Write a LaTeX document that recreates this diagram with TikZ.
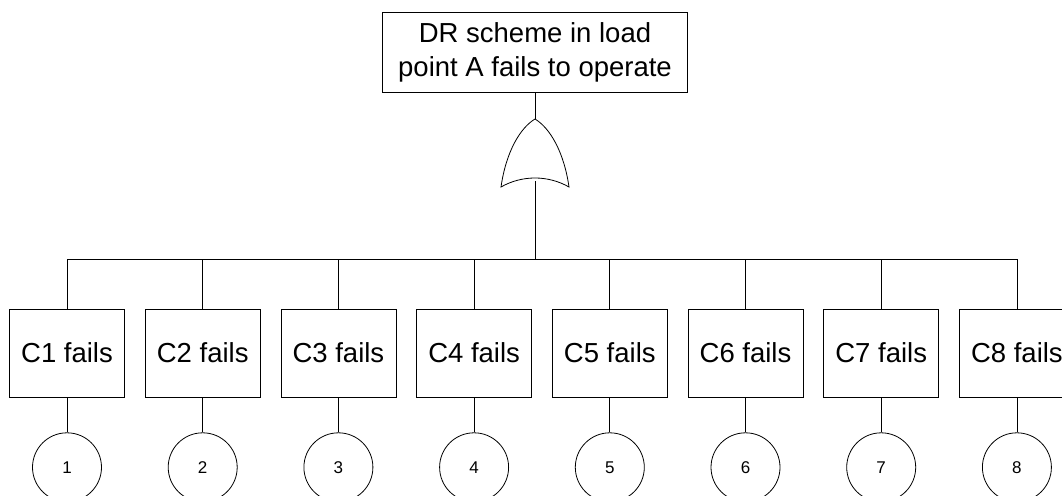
\documentclass[tikz,border=0pt]{standalone}
\usepackage{fontspec}
\setmainfont{Liberation Sans}
\usetikzlibrary{positioning}

\begin{document}
\begin{tikzpicture}[x=1pt, y=-1pt, line width=0.8pt,
    every node/.style={font=\fontsize{27.5}{34}\selectfont},
    evbox/.style={draw, rectangle, minimum width=115pt, minimum height=88pt, inner sep=2pt},
    basic/.style={draw, circle, minimum size=69pt, inner sep=0pt,
      font=\fontsize{17}{20}\selectfont},
    node distance=19.9pt]
  \useasboundingbox (0,0) rectangle (1062,495);

  % top event
  \node[draw, rectangle, minimum width=305pt, minimum height=80pt, align=center,
        inner sep=2pt] (top) at (535,52) {DR scheme in load\\point A fails to operate};

  % OR gate
  \coordinate (gtop) at (535,119);
  \coordinate (gbot) at (535,181);
  \draw (501,187) .. controls (506,152) and (520,128) .. (gtop)
        .. controls (550,128) and (564,152) .. (569,187)
        .. controls (548,175) and (522,175) .. cycle;
  \draw (top.south) -- (gtop);

  % component failures
  \node[evbox] (c1) at (67,353) {C1 fails};
  \node[evbox, right=of c1] (c2) {C2 fails};
  \node[evbox, right=of c2] (c3) {C3 fails};
  \node[evbox, right=of c3] (c4) {C4 fails};
  \node[evbox, right=of c4] (c5) {C5 fails};
  \node[evbox, right=of c5] (c6) {C6 fails};
  \node[evbox, right=of c6] (c7) {C7 fails};
  \node[evbox, right=of c7] (c8) {C8 fails};

  % basic events
  \node[basic, below=35pt of c1] (b1) {1};
  \node[basic, below=35pt of c2] (b2) {2};
  \node[basic, below=35pt of c3] (b3) {3};
  \node[basic, below=35pt of c4] (b4) {4};
  \node[basic, below=35pt of c5] (b5) {5};
  \node[basic, below=35pt of c6] (b6) {6};
  \node[basic, below=35pt of c7] (b7) {7};
  \node[basic, below=35pt of c8] (b8) {8};

  % bus from gate to the boxes
  \coordinate (bus) at (535,259);
  \draw (gbot) -- (bus);
  \draw (c1.north |- bus) -- (c8.north |- bus);
  \foreach \i in {1,...,8} {
    \draw (c\i.north) -- (c\i.north |- bus);
    \draw (c\i.south) -- (b\i.north);
  }
\end{tikzpicture}
\end{document}
